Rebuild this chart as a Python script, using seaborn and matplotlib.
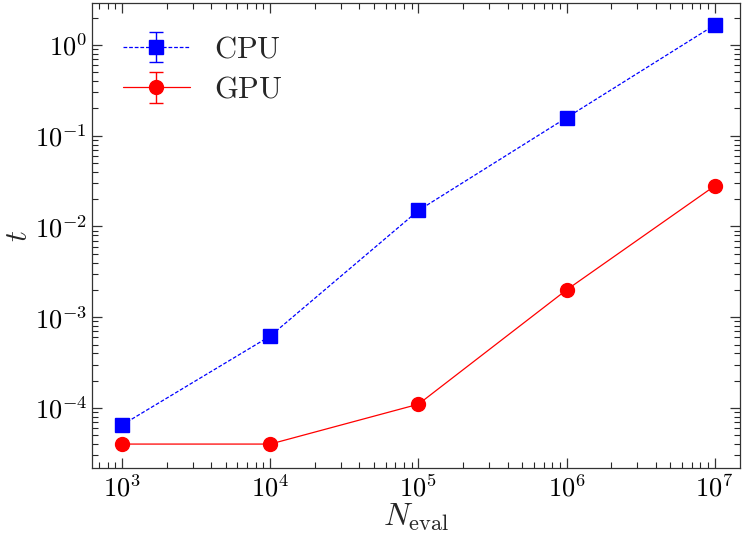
import math
import matplotlib
matplotlib.use("Agg")
import matplotlib.pyplot as plt
import matplotlib.ticker as mticker
import seaborn as sns

n_eval = [1e3, 1e4, 1e5, 1e6, 1e7]
cpu_t = [6.5e-5, 6.2e-4, 1.5e-2, 1.58e-1, 1.66]
gpu_t = [4.0e-5, 4.0e-5, 1.1e-4, 2.0e-3, 2.8e-2]
cpu_err = [0.0, 0.0, 0.0, 0.0, 0.0]
gpu_err = [0.0, 0.0, 0.0, 0.0, 0.0]

sns.set_style("ticks")
plt.rcParams.update({
    "font.family": ["serif"],
    "mathtext.fontset": "cm",
    "xtick.direction": "in",
    "ytick.direction": "in",
    "xtick.top": True,
    "ytick.right": True,
    "xtick.major.size": 7,
    "ytick.major.size": 7,
    "xtick.minor.size": 4,
    "ytick.minor.size": 4,
    "xtick.minor.visible": True,
    "ytick.minor.visible": True,
    "axes.edgecolor": "#333333",
    "axes.linewidth": 0.9,
})

fig, ax = plt.subplots(figsize=(7.48, 5.39), dpi=100)
fig.subplots_adjust(left=0.123, right=0.989, top=0.994, bottom=0.132)

ax.errorbar(n_eval, cpu_t, yerr=cpu_err, color="blue", marker="s", markersize=10,
            linestyle=(0, (3, 1.5)), linewidth=0.9, capsize=5, elinewidth=1,
            label=r"$\mathrm{CPU}$")
ax.errorbar(n_eval, gpu_t, yerr=gpu_err, color="red", marker="o", markersize=10,
            linestyle="-", linewidth=0.9, capsize=5, elinewidth=1,
            label=r"$\mathrm{GPU}$")

ax.set_xscale("log")
ax.set_yscale("log")
ax.set_xlim(10**2.797, 10**7.169)
ax.set_ylim(10**-4.66, 10**0.46)

pow_fmt = mticker.FuncFormatter(lambda v, pos: r"$10^{%d}$" % round(math.log10(v)))
ax.xaxis.set_major_formatter(pow_fmt)
ax.yaxis.set_major_formatter(pow_fmt)
ax.xaxis.set_minor_formatter(mticker.NullFormatter())
ax.yaxis.set_minor_formatter(mticker.NullFormatter())

ax.tick_params(labelsize=19, width=0.9, colors="#333333", labelcolor="black")
ax.tick_params(axis="x", pad=5)
ax.tick_params(which="minor", width=0.8)
ax.set_xlabel(r"$N_{\rm eval}$", fontsize=23, labelpad=0)
ax.set_ylabel(r"$t$", fontsize=22)
ax.yaxis.set_label_coords(-0.09, 0.5)

ax.legend(loc="upper left", frameon=False, fontsize=22, handlelength=2.2,
          borderaxespad=0.6, labelspacing=0.3)

plt.savefig("out.png")
